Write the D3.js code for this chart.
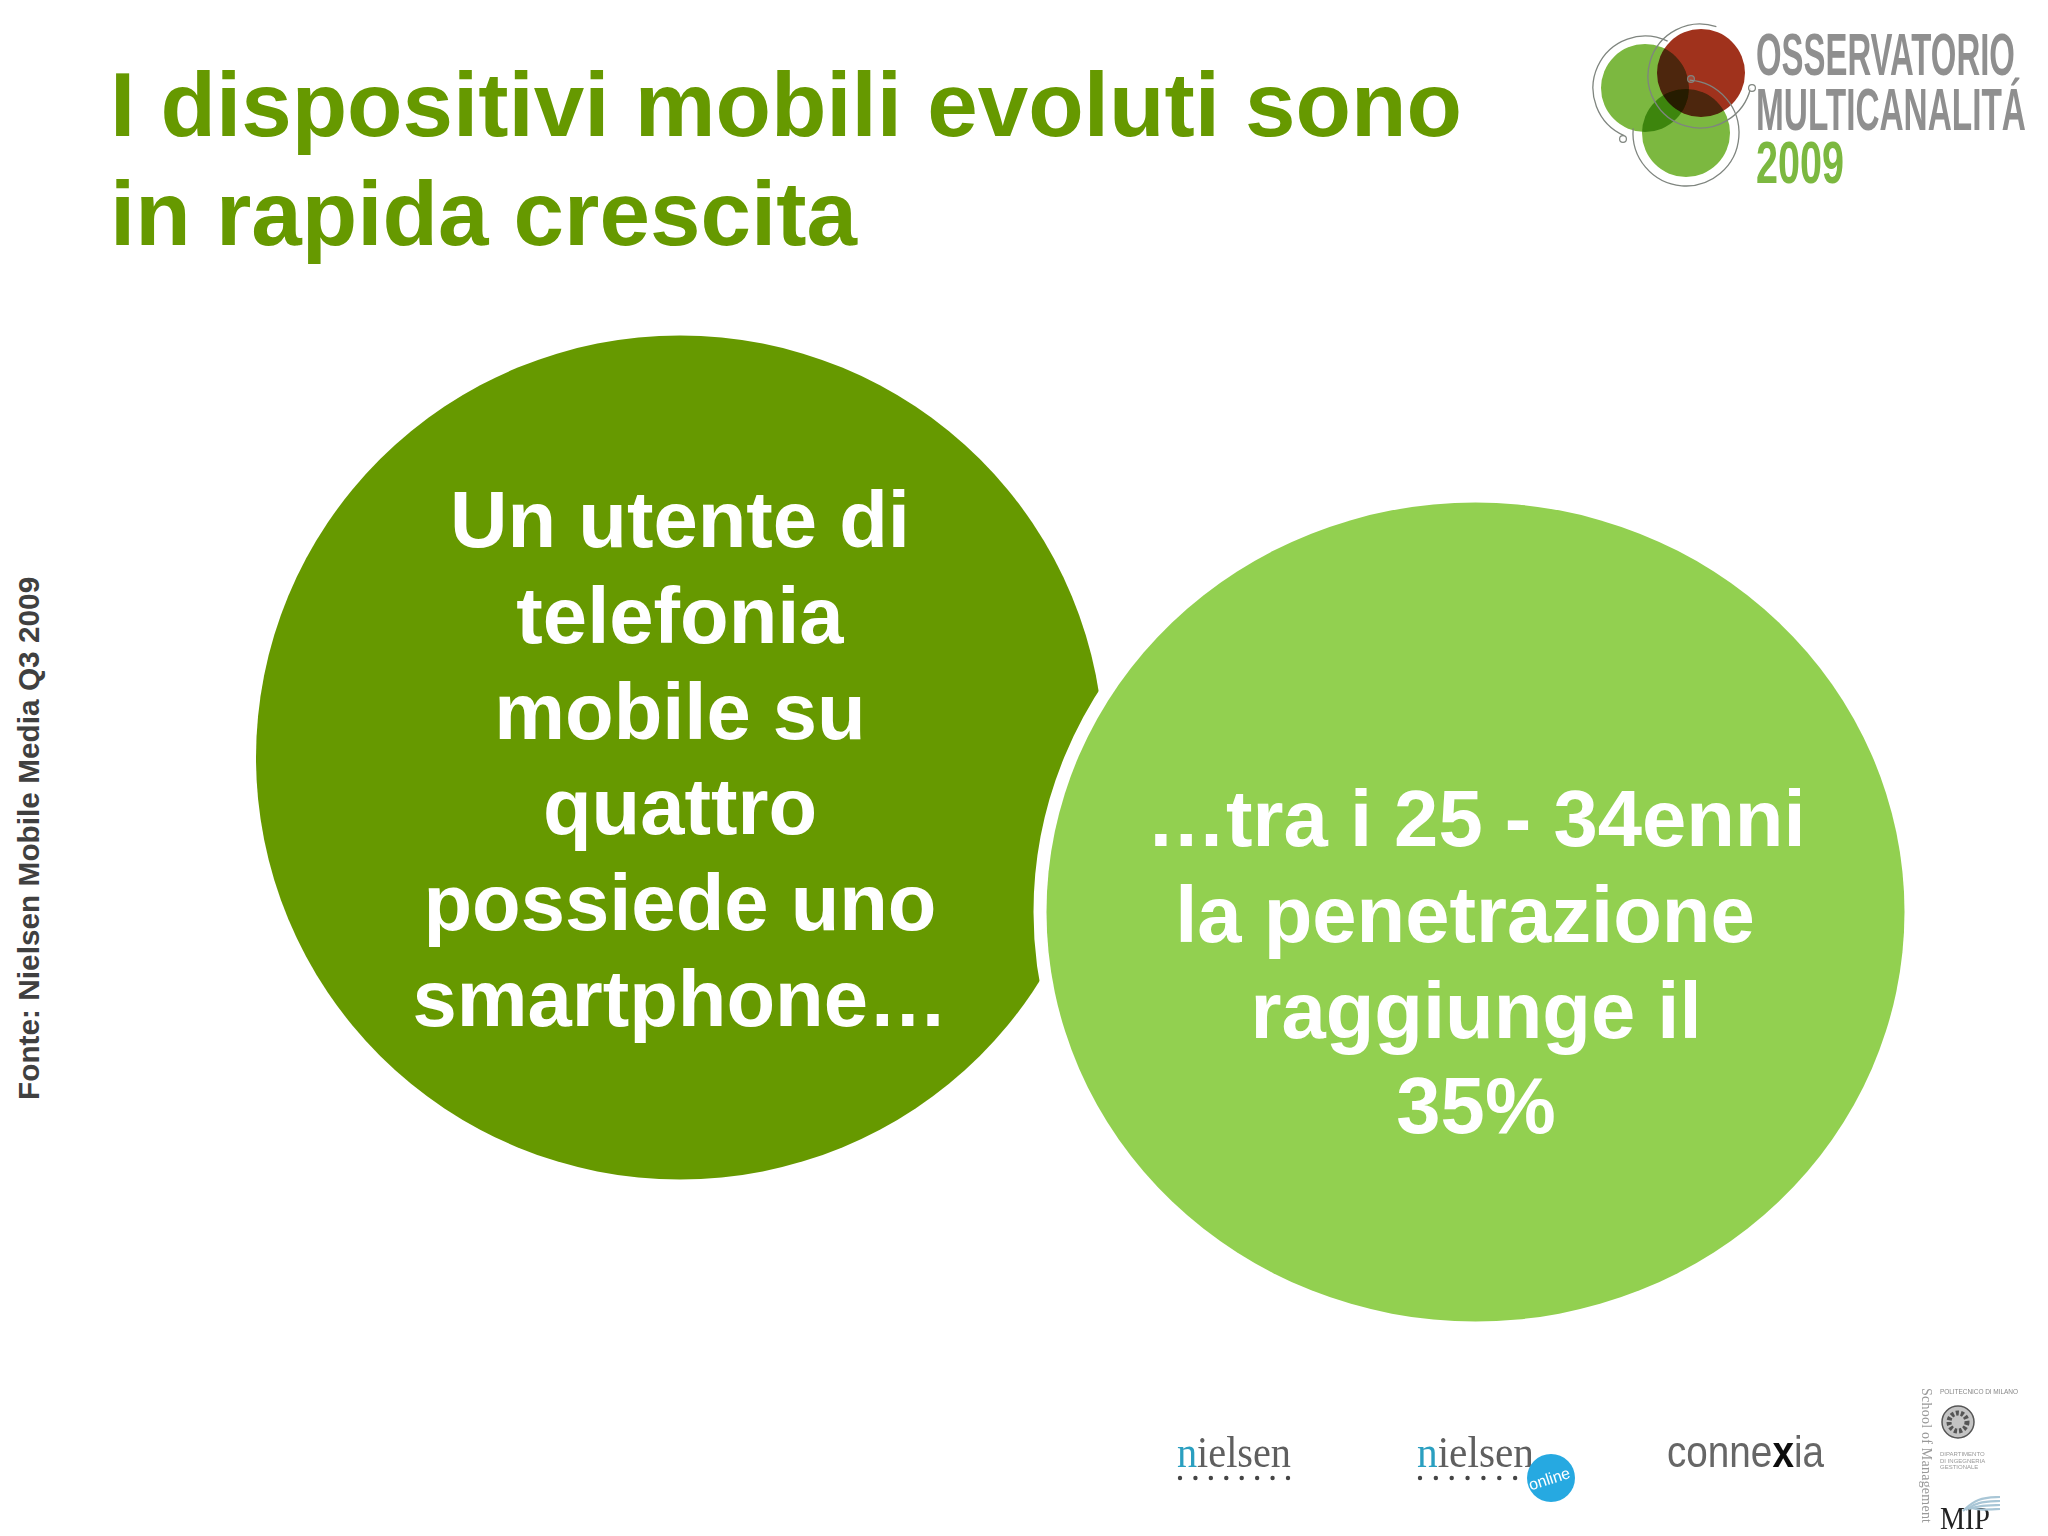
<!DOCTYPE html>
<html>
<head>
<meta charset="UTF-8">
<title>I dispositivi mobili evoluti</title>
<script src="https://cdn.jsdelivr.net/npm/d3@7"></script>
<style>
* { margin: 0; padding: 0; }
body { background: #fff; }
svg { display: block; font-family: "Liberation Sans", Arial, sans-serif; }
</style>
</head>
<body>
<svg id="slide" width="2048" height="1536"></svg>
<script>
const titleLines = ["I dispositivi mobili evoluti sono", "in rapida crescita"];
const leftLines = ["Un utente di", "telefonia", "mobile su", "quattro", "possiede uno", "smartphone…"];
const rightLines = ["…tra i 25 - 34enni", "la penetrazione ", "raggiunge il", "35%"];
const sourceLabel = "Fonte: Nielsen Mobile Media Q3 2009";
const logoLines = ["OSSERVATORIO", "MULTICANALITÁ", "2009"];
const mipLines = ["DIPARTIMENTO", "DI INGEGNERIA", "GESTIONALE"];

const DARK = "#669900", LIGHT = "#92d050";
const svg = d3.select("#slide");

const defs = svg.append("defs");
defs.append("filter").attr("id", "soft").append("feGaussianBlur").attr("stdDeviation", 0.7);
defs.append("filter").attr("id", "softer").append("feGaussianBlur").attr("stdDeviation", 0.45);

// title
svg.append("g").selectAll("text").data(titleLines).join("text")
  .attr("x", 110)
  .attr("y", (d, i) => 136 + i * 109)
  .attr("font-size", 90.8)
  .attr("font-weight", "bold")
  .attr("fill", DARK)
  .text(d => d);

// source, rotated along the left edge
svg.append("text")
  .attr("transform", "translate(39,1100) rotate(-90)")
  .attr("font-size", 29.8)
  .attr("font-weight", "bold")
  .attr("fill", "#404040")
  .text(sourceLabel);

// the two big bubbles, right one has a white ring cutting into the left
svg.append("ellipse").attr("cx", 680).attr("cy", 757.5).attr("rx", 424).attr("ry", 422).attr("fill", DARK);
svg.append("ellipse").attr("cx", 1475.5).attr("cy", 912).attr("rx", 429).attr("ry", 409.5)
  .attr("fill", LIGHT).attr("stroke", "#fff").attr("stroke-width", 26).attr("paint-order", "stroke");

const bubbleText = (lines, cx, y0) => svg.append("g").selectAll("text").data(lines).join("text")
  .attr("x", cx)
  .attr("y", (d, i) => y0 + i * 95.8)
  .attr("text-anchor", "middle")
  .style("white-space", "pre")
  .attr("font-size", 79.6)
  .attr("font-weight", "bold")
  .attr("fill", "#fff")
  .text(d => d);
bubbleText(leftLines, 680, 547);
bubbleText(rightLines, 1476, 846);

// logo top right
const logo = svg.append("g").attr("filter", "url(#softer)");
logo.append("circle").attr("cx", 1645).attr("cy", 88).attr("r", 44).attr("fill", "#7cb83f");
logo.append("circle").attr("cx", 1686).attr("cy", 133).attr("r", 44).attr("fill", "#7cb83f").style("mix-blend-mode", "multiply");
logo.append("circle").attr("cx", 1701).attr("cy", 73).attr("r", 44).attr("fill", "#a0331f").style("mix-blend-mode", "multiply");

const rings = [
  { cx: 1645, cy: 88, r: 52, a0: -2.73, a1: 0.45 },
  { cx: 1700, cy: 76, r: 52, a0: -4.48, a1: 0.32 },
  { cx: 1686, cy: 133, r: 53, a0: 0.07, a1: 4.8 }
];
logo.selectAll("path.ring").data(rings).join("path")
  .attr("class", "ring")
  .attr("fill", "none")
  .attr("stroke", "#7f857f")
  .attr("stroke-width", 1.3)
  .attr("transform", d => `translate(${d.cx},${d.cy})`)
  .attr("d", d => d3.arc()({ innerRadius: d.r, outerRadius: d.r, startAngle: d.a0, endAngle: d.a1 }));
logo.selectAll("circle.knob").data([[1623, 139], [1752, 88], [1691, 79]]).join("circle")
  .attr("class", "knob")
  .attr("cx", d => d[0]).attr("cy", d => d[1]).attr("r", 3.4)
  .attr("fill", "#fff").attr("fill-opacity", d => d[0] === 1691 ? 0.1 : 0.85)
  .attr("stroke", "#7f857f").attr("stroke-width", 1.2);

const logoLayout = [
  { y: 75, size: 60, w: 259, fill: "#8f8f8f" },
  { y: 130, size: 60, w: 270, fill: "#8f8f8f" },
  { y: 183, size: 60, w: 88, fill: "#7cb83f" }
];
logo.selectAll("text").data(logoLines).join("text")
  .attr("font-family", "'Liberation Sans Narrow', 'Liberation Sans', sans-serif")
  .attr("font-weight", "bold")
  .attr("font-size", (d, i) => logoLayout[i].size)
  .attr("fill", (d, i) => logoLayout[i].fill)
  .text(d => d)
  .attr("transform", function(d, i) {
    const l = logoLayout[i];
    return `translate(1756,${l.y}) scale(${l.w / this.getComputedTextLength()},1)`;
  });

// partner logos bottom
const partners = svg.append("g").attr("filter", "url(#soft)");
const SERIF = "'Liberation Serif', serif";
function nielsen(x0, w) {
  const t = partners.append("text").attr("x", x0).attr("y", 1467)
    .attr("font-family", SERIF).attr("font-size", 44).attr("fill", "#5e5e5e")
    .attr("textLength", w).attr("lengthAdjust", "spacingAndGlyphs");
  t.append("tspan").attr("fill", "#2a9fc0").text("n");
  t.append("tspan").text("ielsen");
  partners.selectAll(null).data(d3.range(8)).join("circle")
    .attr("cx", i => x0 + 3 + i * (w - 6) / 7).attr("cy", 1478).attr("r", 2.2).attr("fill", "#444");
}
nielsen(1177, 114);
nielsen(1417, 117);
partners.append("ellipse").attr("cx", 1551).attr("cy", 1478).attr("rx", 24).attr("ry", 24).attr("fill", "#27a9e1");
partners.append("text").attr("transform", "translate(1551,1484) rotate(-18)")
  .attr("text-anchor", "middle").attr("font-size", 16).attr("fill", "#fff").text("online");

const cnx = partners.append("text").attr("x", 1667).attr("y", 1467).attr("font-size", 44).attr("fill", "#666")
  .attr("font-family", "'Liberation Sans', sans-serif")
  .attr("textLength", 157).attr("lengthAdjust", "spacingAndGlyphs");
cnx.append("tspan").text("conne");
cnx.append("tspan").attr("fill", "#111").attr("font-weight", "bold").text("x");
cnx.append("tspan").text("ia");

partners.append("text").attr("transform", "translate(1922,1388) rotate(90)")
  .attr("font-family", SERIF).attr("font-size", 14).attr("fill", "#999")
  .attr("textLength", 135).text("School of Management");
partners.append("text").attr("x", 1940).attr("y", 1394).attr("font-size", 6.5).attr("fill", "#888")
  .attr("textLength", 78).text("POLITECNICO DI MILANO");
partners.append("circle").attr("cx", 1958).attr("cy", 1422).attr("r", 16).attr("fill", "#c4c4c4").attr("stroke", "#555").attr("stroke-width", 1.5);
partners.append("circle").attr("cx", 1958).attr("cy", 1422).attr("r", 9).attr("fill", "none").attr("stroke", "#555").attr("stroke-width", 5).attr("stroke-dasharray", "3 2");
partners.selectAll("text.dip").data(mipLines).join("text").attr("class", "dip")
  .attr("x", 1940).attr("y", (d, i) => 1456 + i * 6.5)
  .attr("font-size", 6).attr("fill", "#999").text(d => d);
partners.append("text").attr("x", 1940).attr("y", 1529).attr("font-family", SERIF)
  .attr("font-size", 32).attr("fill", "#222").attr("textLength", 50).attr("lengthAdjust", "spacingAndGlyphs").text("MIP");
partners.selectAll("path.wave").data([0, 1, 2, 3]).join("path").attr("class", "wave")
  .attr("fill", "none").attr("stroke", "#a9c6d6").attr("stroke-width", 2.2)
  .attr("d", i => d3.line().curve(d3.curveBasis)([[1963 + i * 3, 1511 - i], [1977, 1498 + i * 4], [2000, 1497 + i * 4]]));
</script>
</body>
</html>
